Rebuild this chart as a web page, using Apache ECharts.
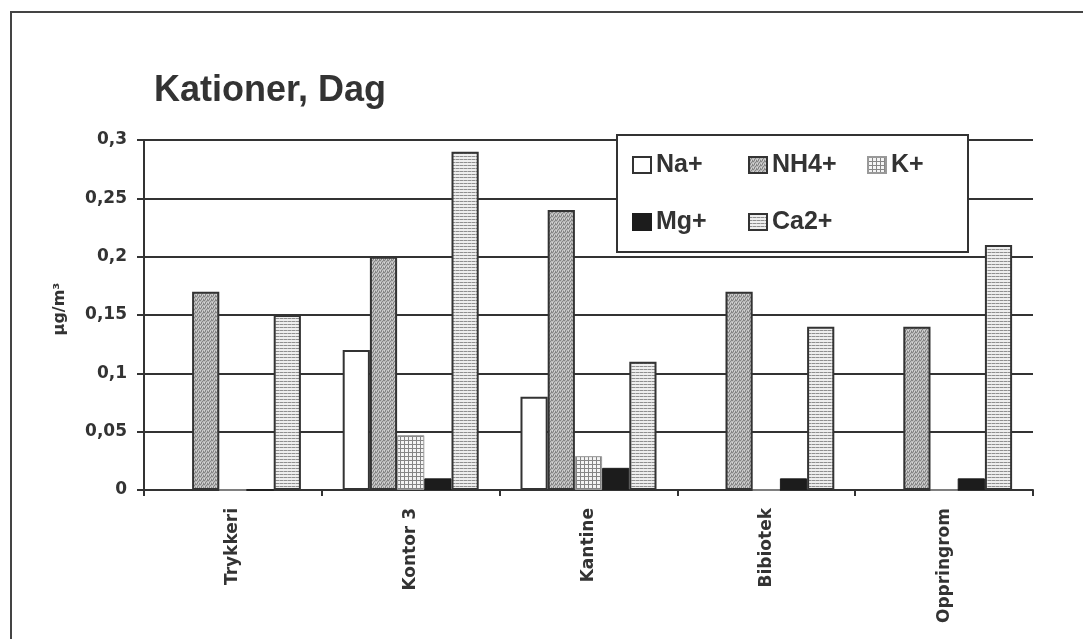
<!DOCTYPE html>
<html>
<head>
<meta charset="utf-8">
<script src="https://cdn.jsdelivr.net/npm/echarts@6/dist/echarts.min.js"></script>
<style>
html,body{margin:0;padding:0;background:#fff;}
#c{width:1083px;height:639px;}
</style>
</head>
<body>
<div id="c"></div>
<script>
var categories = ['Trykkeri', 'Kontor 3', 'Kantine', 'Bibiotek', 'Oppringrom'];
var seriesNames = ['Na+', 'NH4+', 'K+', 'Mg+', 'Ca2+'];
var naValues  = [0,    0.12, 0.08, 0,    0];
var nh4Values = [0.17, 0.20, 0.24, 0.17, 0.14];
var kValues   = [0,    0.047, 0.029, 0,  0];
var mgValues  = [0,    0.01, 0.019, 0.01, 0.01];
var caValues  = [0.15, 0.29, 0.11, 0.14, 0.21];
var yTicks = [0, 0.05, 0.1, 0.15, 0.2, 0.25, 0.3];
var yUnit = 'µg/m³';

function makePattern(w, h, draw) {
  var c = document.createElement('canvas');
  c.width = w; c.height = h;
  var ctx = c.getContext('2d');
  draw(ctx);
  return { image: c, repeat: 'repeat' };
}
var patNH4 = makePattern(4, 4, function (ctx) {
  ctx.fillStyle = '#bababa'; ctx.fillRect(0, 0, 4, 4);
  ctx.fillStyle = '#858585';
  [[0,0],[2,1],[1,2],[3,3],[3,0],[1,3]].forEach(function (p) { ctx.fillRect(p[0], p[1], 1, 1); });
  ctx.fillStyle = '#d6d6d6';
  [[2,3],[0,2]].forEach(function (p) { ctx.fillRect(p[0], p[1], 1, 1); });
});
var patCa = makePattern(4, 3, function (ctx) {
  ctx.fillStyle = '#eeeeee'; ctx.fillRect(0, 0, 4, 3);
  ctx.fillStyle = '#8f8f8f'; ctx.fillRect(0, 0, 3, 1);
  ctx.fillStyle = '#bbbbbb'; ctx.fillRect(3, 0, 1, 1);
});
var patK = makePattern(4, 4, function (ctx) {
  ctx.fillStyle = '#f4f4f4'; ctx.fillRect(0, 0, 4, 4);
  ctx.fillStyle = '#858585'; ctx.fillRect(0, 0, 4, 1); ctx.fillRect(0, 0, 1, 4);
});

var styles = [
  { color: '#ffffff', borderColor: '#333', borderWidth: 2 },
  { color: patNH4, borderColor: '#333', borderWidth: 2 },
  { color: patK, borderColor: '#999', borderWidth: 1 },
  { color: '#1c1c1c', borderColor: '#1c1c1c', borderWidth: 1 },
  { color: patCa, borderColor: '#333', borderWidth: 2 }
];
var values = [naValues, nh4Values, kValues, mgValues, caValues];

var legendPos = [[632, 152], [748, 152], [867, 152], [632, 209], [748, 209]];

var chart = echarts.init(document.getElementById('c'), null, { renderer: 'canvas' });
var option = {
  animation: false,
  backgroundColor: '#fff',
  title: {
    text: 'Kationer, Dag', left: 154, top: 73, padding: 0,
    textStyle: { fontFamily: 'Liberation Sans', fontSize: 36, fontWeight: 'bold', color: '#333' }
  },
  graphic: [
    { type: 'rect', silent: true, z: 1, shape: { x: 11, y: 12, width: 1100, height: 700 },
      style: { fill: null, stroke: '#444', lineWidth: 2 } },
    { type: 'rect', silent: true, z: 5, shape: { x: 617, y: 135, width: 351, height: 117 },
      style: { fill: '#fff', stroke: '#333', lineWidth: 2 } },
    { type: 'text', silent: true, z: 5, x: 60, y: 309, rotation: Math.PI / 2,
      style: { text: yUnit, fill: '#333', font: 'bold 16px "DejaVu Sans"', align: 'center', verticalAlign: 'middle' } }
  ],
  legend: seriesNames.map(function (n, i) {
    return {
      data: [n], left: legendPos[i][0], top: legendPos[i][1], padding: 0, z: 10,
      icon: 'rect', itemWidth: 18, itemHeight: 16, itemGap: 0,
      selectedMode: false,
      textStyle: { fontFamily: 'Liberation Sans', fontSize: 25, fontWeight: 'bold', color: '#333', lineHeight: 26 }
    };
  }),
  grid: { left: 144, right: 50, top: 140, bottom: 149, containLabel: false },
  xAxis: {
    type: 'category', data: categories,
    axisLine: { show: true, lineStyle: { color: '#333', width: 2 } },
    axisTick: { show: true, length: 6, lineStyle: { color: '#333', width: 2 } },
    axisLabel: { rotate: 90, margin: 18, fontFamily: 'DejaVu Sans', fontSize: 17, fontWeight: 'bold', color: '#333' },
    splitLine: { show: false }
  },
  yAxis: {
    type: 'value', min: yTicks[0], max: yTicks[yTicks.length - 1], interval: 0.05,
    axisLine: { show: true, lineStyle: { color: '#333', width: 2 } },
    axisTick: { show: true, length: 7, lineStyle: { color: '#333', width: 2 } },
    axisLabel: {
      margin: 17, fontFamily: 'DejaVu Sans', fontSize: 17, fontWeight: 'bold', color: '#333',
      formatter: function (v) { return String(+v.toFixed(2)).replace('.', ','); }
    },
    splitLine: { show: true, lineStyle: { color: '#333', width: 2 } }
  },
  series: seriesNames.map(function (n, i) {
    return {
      name: n, type: 'bar', data: values[i],
      barGap: '0%', barCategoryGap: '23.5%',
      itemStyle: styles[i]
    };
  })
};
chart.setOption(option);
</script>
</body>
</html>
